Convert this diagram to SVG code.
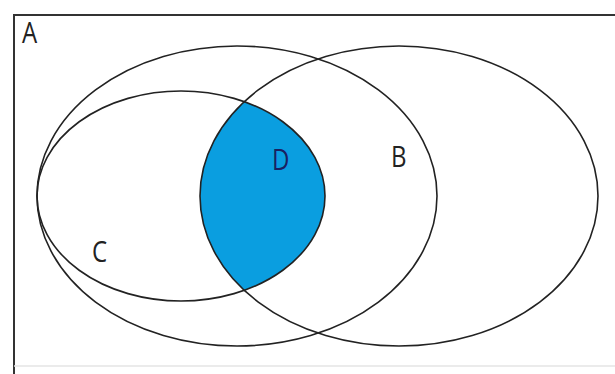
<svg xmlns="http://www.w3.org/2000/svg" width="615" height="374" viewBox="0 0 615 374">
<style>
.set{fill:none;stroke:#222;stroke-width:1.6}
.lbl{font-family:"Open Sans","Liberation Sans",sans-serif;font-size:30px;fill:#222}
</style>
<defs>
<clipPath id="clipB"><ellipse cx="399" cy="196" rx="199" ry="150"/></clipPath>
</defs>
<rect x="0" y="0" width="615" height="374" fill="#fff"/>
<g id="A">
<path d="M14 374 V15 H615" fill="none" stroke="#333" stroke-width="2"/>
<line x1="14" y1="366" x2="615" y2="366" stroke="#e4e4e4" stroke-width="1.5"/>
<text class="lbl" transform="translate(22,43) scale(0.8,1)">A</text>
</g>
<g id="D">
<ellipse cx="181" cy="196" rx="144" ry="105" fill="#0A9EE0" clip-path="url(#clipB)"/>
<text class="lbl" style="fill:#1a2060" transform="translate(272,170) scale(0.8,1)">D</text>
</g>
<g id="L"><ellipse class="set" cx="237" cy="196" rx="200" ry="150"/></g>
<g id="B"><ellipse class="set" cx="399" cy="196" rx="199" ry="150"/><text class="lbl" transform="translate(391,167) scale(0.8,1)">B</text></g>
<g id="C"><ellipse class="set" cx="181" cy="196" rx="144" ry="105"/><text class="lbl" transform="translate(92,262) scale(0.8,1)">C</text></g>
</svg>
